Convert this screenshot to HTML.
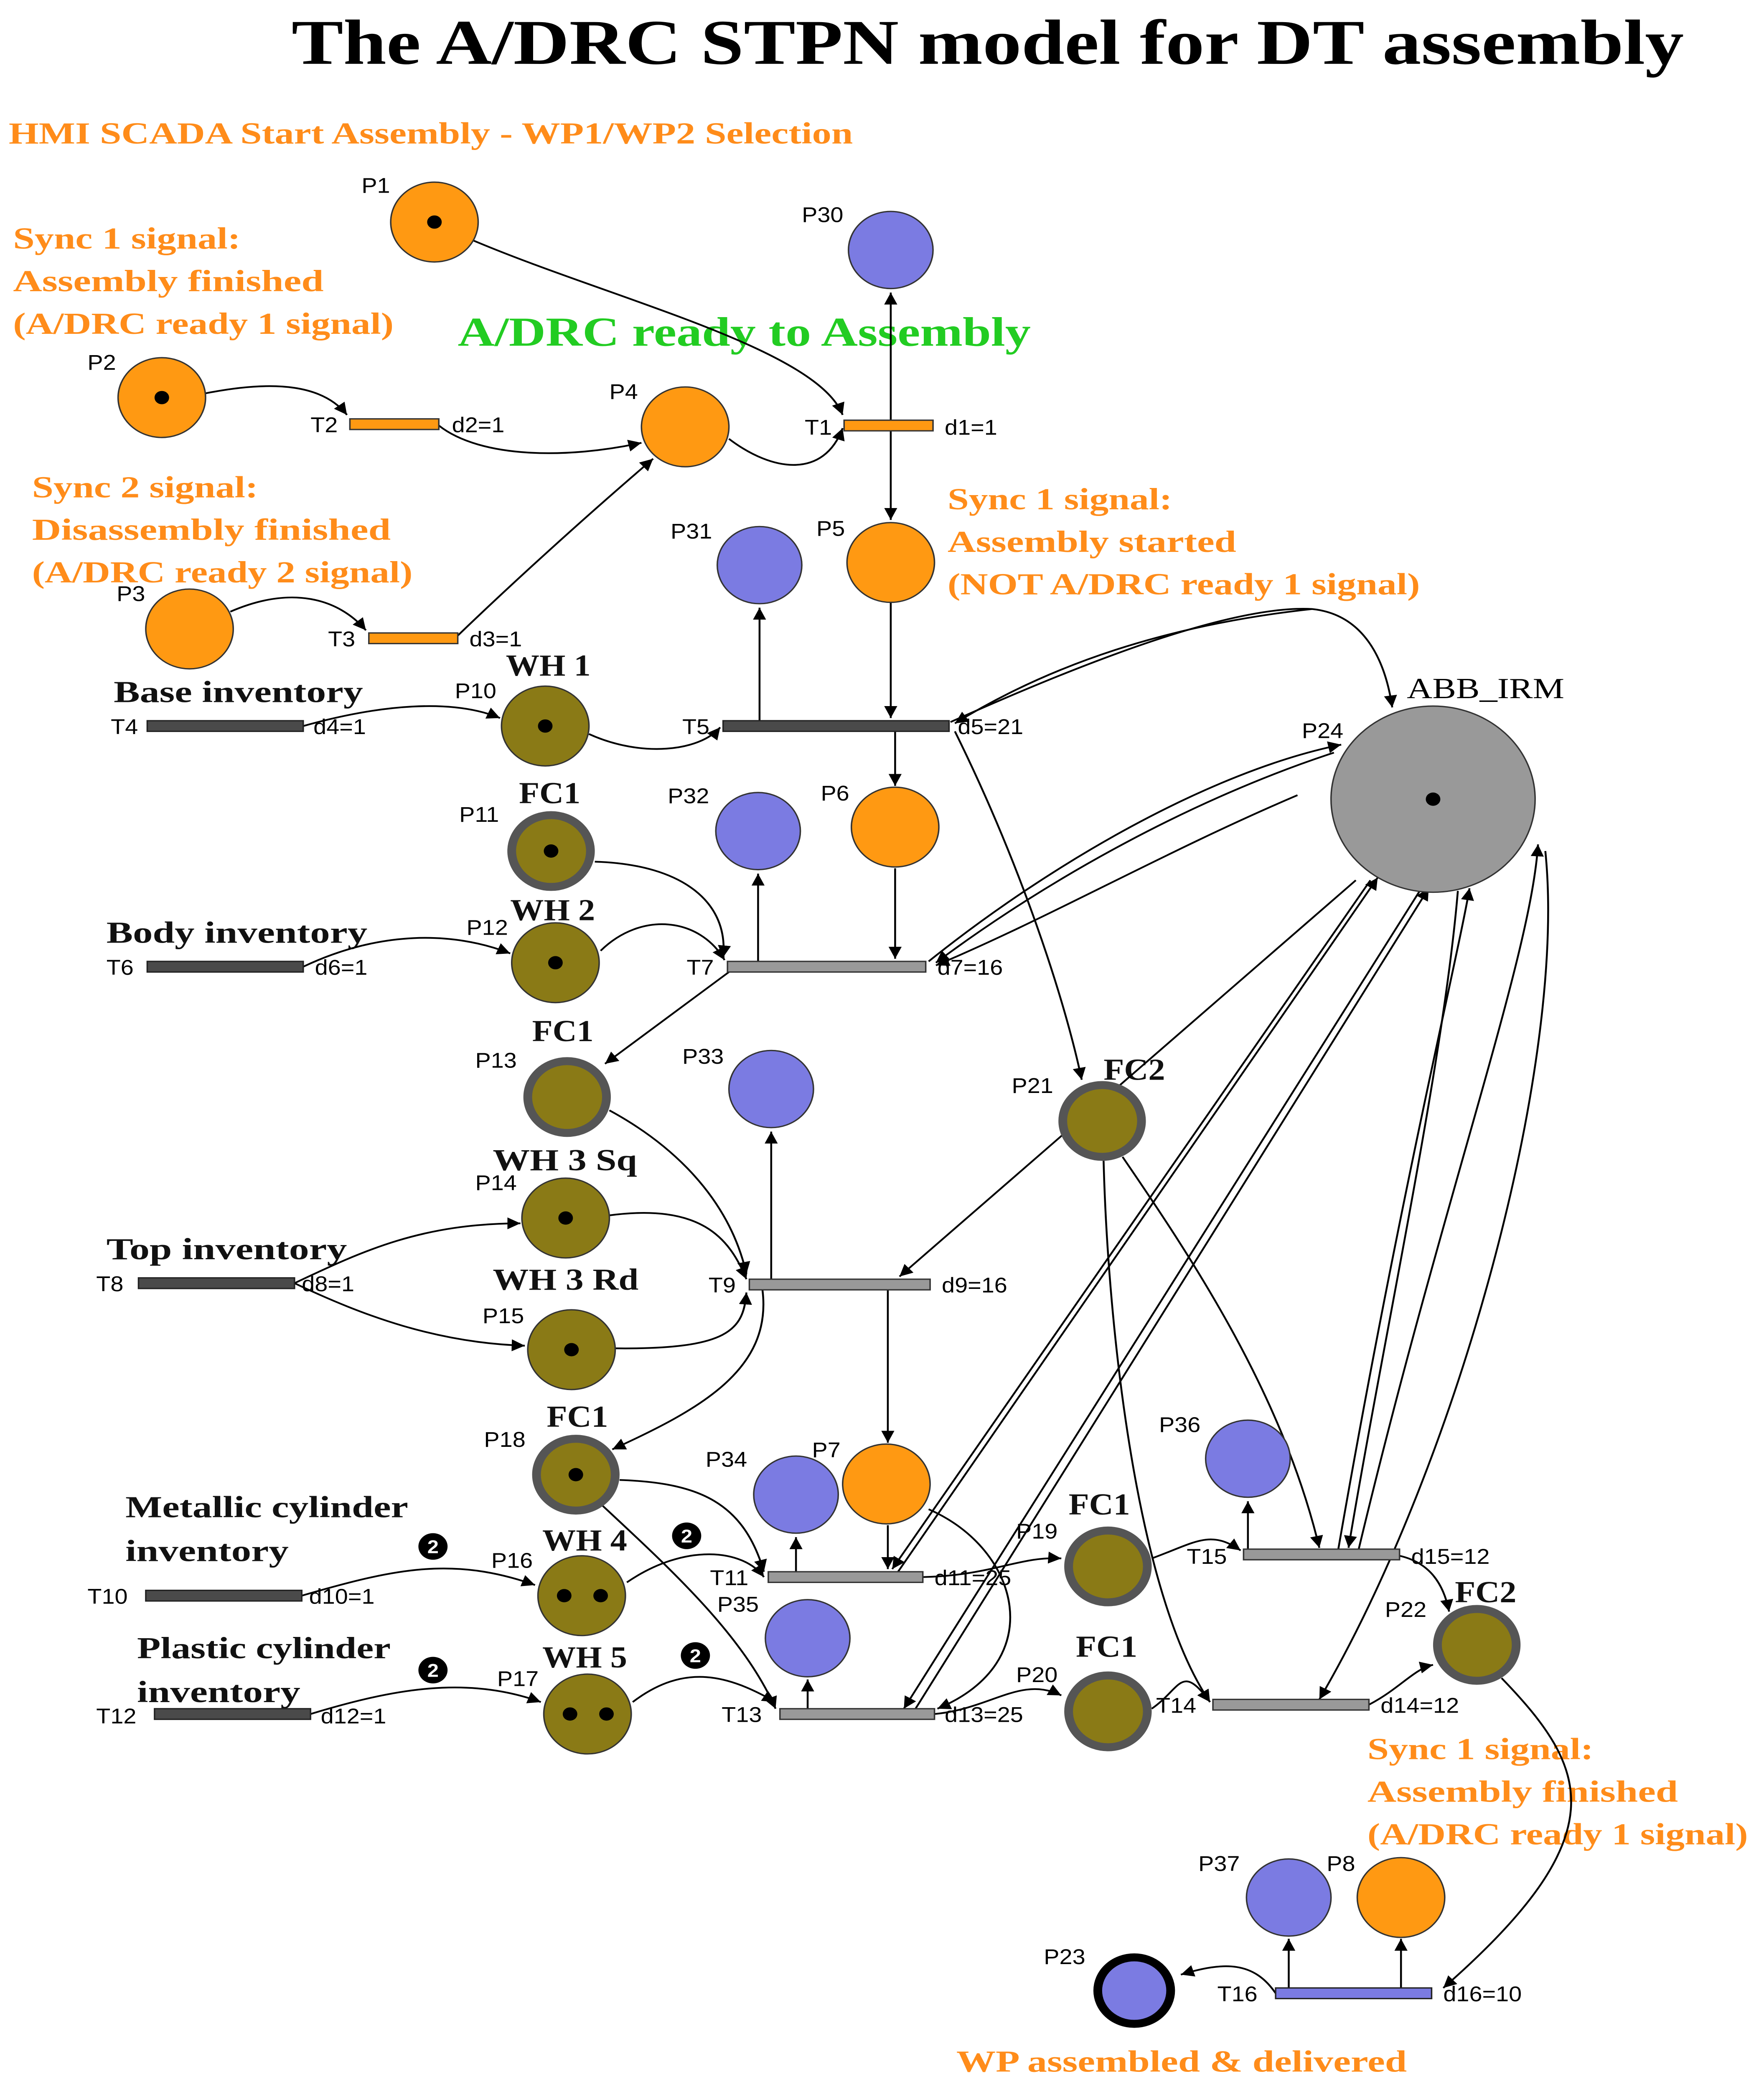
<!DOCTYPE html>
<html><head><meta charset="utf-8"><style>
html,body{margin:0;padding:0;background:#fff;width:100%;height:100%;overflow:hidden;}
svg{display:block;width:100vw;height:100vh;}
.lb{font-family:"Liberation Sans",sans-serif;font-size:16px;fill:#000;}
.or{font-family:"Liberation Serif",serif;font-weight:bold;font-size:23px;fill:#ff8c1a;}
.bk{font-family:"Liberation Serif",serif;font-weight:bold;font-size:23px;fill:#111;}
.pl{stroke:#333;stroke-width:1;}
.o{fill:#ff9912;}
.b{fill:#7b7be2;}
.v{fill:#8a7a16;}
.r{fill:#8a7a16;stroke:#555;stroke-width:6;}
.a{fill:none;stroke:#000;stroke-width:1.3;marker-end:url(#ar);}
.td{fill:#4a4a4a;stroke:#222;stroke-width:1;}
.tg{fill:#999;stroke:#333;stroke-width:1;}
.to{fill:#ff9912;stroke:#333;stroke-width:1;}
</style></head><body>
<svg viewBox="0 0 1210 1571" preserveAspectRatio="none" xmlns="http://www.w3.org/2000/svg">
<defs><marker id="ar" viewBox="0 0 10 10" refX="10" refY="5" markerWidth="9" markerHeight="9" markerUnits="userSpaceOnUse" orient="auto"><path d="M0,0 L10,5 L0,10 z" fill="#000"/></marker></defs>

<text x="200" y="48" textLength="955" lengthAdjust="spacingAndGlyphs" style="font-family:'Liberation Serif',serif;font-weight:bold;font-size:48px">The A/DRC STPN model for DT assembly</text>
<text class="or" x="6" y="108" textLength="579" lengthAdjust="spacingAndGlyphs">HMI SCADA Start Assembly - WP1/WP2 Selection</text>
<text class="or" x="9" y="187" textLength="156" lengthAdjust="spacingAndGlyphs">Sync 1 signal:</text><text class="or" x="9" y="219" textLength="213" lengthAdjust="spacingAndGlyphs">Assembly finished</text><text class="or" x="9" y="251" textLength="261" lengthAdjust="spacingAndGlyphs">(A/DRC ready 1 signal)</text>
<text x="314" y="260" textLength="393" lengthAdjust="spacingAndGlyphs" style="font-family:'Liberation Serif',serif;font-weight:bold;font-size:31px;fill:#22cc22">A/DRC ready to Assembly</text>
<text class="or" x="22" y="374" textLength="155" lengthAdjust="spacingAndGlyphs">Sync 2 signal:</text><text class="or" x="22" y="406" textLength="246" lengthAdjust="spacingAndGlyphs">Disassembly finished</text><text class="or" x="22" y="438" textLength="261" lengthAdjust="spacingAndGlyphs">(A/DRC ready 2 signal)</text>
<text class="or" x="650" y="383" textLength="154" lengthAdjust="spacingAndGlyphs">Sync 1 signal:</text><text class="or" x="650" y="415" textLength="198" lengthAdjust="spacingAndGlyphs">Assembly started</text><text class="or" x="650" y="447" textLength="324" lengthAdjust="spacingAndGlyphs">(NOT A/DRC ready 1 signal)</text>
<text class="or" x="938" y="1323" textLength="155" lengthAdjust="spacingAndGlyphs">Sync 1 signal:</text><text class="or" x="938" y="1355" textLength="213" lengthAdjust="spacingAndGlyphs">Assembly finished</text><text class="or" x="938" y="1387" textLength="261" lengthAdjust="spacingAndGlyphs">(A/DRC ready 1 signal)</text>
<text class="or" x="656" y="1558" textLength="309" lengthAdjust="spacingAndGlyphs">WP assembled &amp; delivered</text>
<text class="bk" x="78" y="528" textLength="171" lengthAdjust="spacingAndGlyphs">Base inventory</text>
<text class="bk" x="73" y="709" textLength="179" lengthAdjust="spacingAndGlyphs">Body inventory</text>
<text class="bk" x="73" y="947" textLength="165" lengthAdjust="spacingAndGlyphs">Top inventory</text>
<text class="bk" x="86" y="1141" textLength="194" lengthAdjust="spacingAndGlyphs">Metallic cylinder</text><text class="bk" x="86" y="1174" textLength="112" lengthAdjust="spacingAndGlyphs">inventory</text>
<text class="bk" x="94" y="1247" textLength="174" lengthAdjust="spacingAndGlyphs">Plastic cylinder</text><text class="bk" x="94" y="1280" textLength="112" lengthAdjust="spacingAndGlyphs">inventory</text>
<text class="bk" x="347" y="508">WH 1</text><text class="bk" x="356" y="604">FC1</text><text class="bk" x="350" y="692">WH 2</text>
<text class="bk" x="365" y="783">FC1</text><text class="bk" x="757" y="812">FC2</text><text class="bk" x="338" y="880" textLength="99" lengthAdjust="spacingAndGlyphs">WH 3 Sq</text>
<text class="bk" x="338" y="970" textLength="100" lengthAdjust="spacingAndGlyphs">WH 3 Rd</text><text class="bk" x="375" y="1073">FC1</text><text class="bk" x="733" y="1139">FC1</text>
<text class="bk" x="372" y="1166">WH 4</text><text class="bk" x="998" y="1205">FC2</text><text class="bk" x="372" y="1254">WH 5</text>
<text class="bk" x="738" y="1246">FC1</text>
<text x="965" y="525" textLength="108" lengthAdjust="spacingAndGlyphs" style="font-family:'Liberation Serif',serif;font-size:22px">ABB_IRM</text>

<g>
<path class="a" d="M325,181 C420,225 560,262 578,312"/>
<path class="a" d="M611,316 L611,220"/>
<path class="a" d="M611,324 L611,391"/>
<path class="a" d="M140,296 C190,285 222,290 238,312"/>
<path class="a" d="M301,320 C330,345 390,345 440,333"/>
<path class="a" d="M500,330 C530,355 565,360 578,322"/>
<path class="a" d="M158,460 C200,440 232,450 251,474"/>
<path class="a" d="M314,478 C350,440 400,390 448,345"/>
<path class="a" d="M521,542 L521,457"/>
<path class="a" d="M611,453 L611,540"/>
<path class="a" d="M652,543 C760,490 850,455 900,458 C935,462 950,495 955,532"/>
<path class="a" d="M900,458 C800,470 720,500 655,544"/>
<path class="a" d="M208,546 C260,530 310,525 343,540"/>
<path class="a" d="M404,552 C440,570 480,565 494,547"/>
<path class="a" d="M614,550 L614,591"/>
<path class="a" d="M655,550 C700,650 730,750 742,812"/>
<path class="a" d="M637,723 C720,650 830,580 920,560"/>
<path class="a" d="M915,566 C820,600 720,660 642,724"/>
<path class="a" d="M890,598 C800,640 720,690 642,726"/>
<path class="a" d="M520,723 L520,657"/>
<path class="a" d="M614,653 L614,721"/>
<path class="a" d="M408,648 C470,650 500,680 496,720"/>
<path class="a" d="M208,727 C260,700 310,700 350,717"/>
<path class="a" d="M412,715 C440,685 480,690 497,722"/>
<path class="a" d="M500,731 L415,800"/>
<path class="a" d="M418,835 C460,860 500,900 512,958"/>
<path class="a" d="M529,962 L529,851"/>
<path class="a" d="M930,662 L617,960"/>
<path class="a" d="M202,965 C250,940 290,920 357,920"/>
<path class="a" d="M202,965 C250,990 300,1010 360,1012"/>
<path class="a" d="M418,914 C480,905 500,930 512,962"/>
<path class="a" d="M422,1014 C500,1015 510,1000 512,972"/>
<path class="a" d="M523,970 C530,1030 480,1060 420,1090"/>
<path class="a" d="M609,970 L609,1085"/>
<path class="a" d="M425,1113 C480,1115 510,1130 524,1182"/>
<path class="a" d="M413,1132 C460,1180 510,1230 532,1285"/>
<path class="a" d="M207,1200 C270,1180 310,1170 367,1192"/>
<path class="a" d="M430,1190 C470,1160 510,1165 524,1186"/>
<path class="a" d="M546,1182 L546,1156"/>
<path class="a" d="M609,1147 L609,1180"/>
<path class="a" d="M940,662 L612,1180"/>
<path class="a" d="M616,1182 L945,660"/>
<path class="a" d="M975,668 L620,1285"/>
<path class="a" d="M628,1285 L980,668"/>
<path class="a" d="M633,1186 C680,1185 700,1170 728,1172"/>
<path class="a" d="M637,1135 C700,1165 720,1250 643,1285"/>
<path class="a" d="M213,1289 C270,1270 320,1260 371,1280"/>
<path class="a" d="M434,1280 C470,1250 500,1260 532,1280"/>
<path class="a" d="M554,1285 L554,1263"/>
<path class="a" d="M641,1289 C680,1285 700,1260 728,1275"/>
<path class="a" d="M790,1172 C820,1160 830,1150 851,1166"/>
<path class="a" d="M856,1165 L856,1129"/>
<path class="a" d="M770,870 C820,950 880,1050 905,1164"/>
<path class="a" d="M918,1165 C960,900 1000,720 1008,668"/>
<path class="a" d="M1000,670 C990,800 950,1000 925,1164"/>
<path class="a" d="M932,1165 C990,900 1050,720 1055,635"/>
<path class="a" d="M1060,640 C1075,800 1000,1100 905,1278"/>
<path class="a" d="M757,873 C760,1000 780,1200 830,1280"/>
<path class="a" d="M960,1170 C980,1175 990,1190 994,1212"/>
<path class="a" d="M790,1285 C810,1270 810,1250 830,1280"/>
<path class="a" d="M939,1282 C960,1270 970,1255 983,1252"/>
<path class="a" d="M1030,1262 C1090,1330 1110,1380 990,1495"/>
<path class="a" d="M884,1495 L884,1458"/>
<path class="a" d="M961,1495 L961,1458"/>
<path class="a" d="M875,1499 C860,1475 840,1475 810,1485"/>
</g>

<rect class="to" x="240" y="315" width="61" height="8"/>
<rect class="to" x="579" y="316" width="61" height="8"/>
<rect class="to" x="253" y="476" width="61" height="8"/>
<rect class="td" x="101" y="542" width="107" height="8"/>
<rect class="td" x="496" y="542" width="155" height="8"/>
<rect class="td" x="101" y="723" width="107" height="8"/>
<rect class="tg" x="499" y="723" width="136" height="8"/>
<rect class="td" x="95" y="961" width="107" height="8"/>
<rect class="tg" x="514" y="962" width="124" height="8"/>
<rect class="tg" x="527" y="1182" width="106" height="8"/>
<rect class="tg" x="853" y="1165" width="107" height="8"/>
<rect class="td" x="100" y="1196" width="107" height="8"/>
<rect class="tg" x="535" y="1285" width="106" height="8"/>
<rect class="tg" x="832" y="1278" width="107" height="8"/>
<rect class="td" x="106" y="1285" width="107" height="8"/>
<rect x="875" y="1495" width="107" height="8" fill="#7b7be2" stroke="#222"/>

<g class="pl">
<circle class="o" cx="298" cy="167" r="30"/><circle class="b" cx="611" cy="188" r="29"/>
<circle class="o" cx="111" cy="299" r="30"/><circle class="o" cx="470" cy="321" r="30"/>
<circle class="o" cx="130" cy="473" r="30"/><circle class="b" cx="521" cy="425" r="29"/>
<circle class="o" cx="611" cy="423" r="30"/><circle class="v" cx="374" cy="546" r="30"/>
<circle cx="983" cy="601" r="70" fill="#999"/>
<circle class="r" cx="378" cy="640" r="27"/><circle class="b" cx="520" cy="625" r="29"/>
<circle class="o" cx="614" cy="622" r="30"/><circle class="v" cx="381" cy="724" r="30"/>
<circle class="r" cx="389" cy="825" r="27"/><circle class="b" cx="529" cy="819" r="29"/>
<circle class="r" cx="756" cy="843" r="27"/><circle class="v" cx="388" cy="916" r="30"/>
<circle class="v" cx="392" cy="1015" r="30"/><circle class="r" cx="395" cy="1109" r="27"/>
<circle class="b" cx="546" cy="1124" r="29"/><circle class="o" cx="608" cy="1116" r="30"/>
<circle class="b" cx="856" cy="1097" r="29"/><circle class="r" cx="760" cy="1178" r="27"/>
<circle class="v" cx="399" cy="1200" r="30"/><circle class="b" cx="554" cy="1232" r="29"/>
<circle class="r" cx="1013" cy="1237" r="27"/><circle class="v" cx="403" cy="1289" r="30"/>
<circle class="r" cx="760" cy="1287" r="27"/><circle class="b" cx="884" cy="1427" r="29"/>
<circle class="o" cx="961" cy="1427" r="30"/>
<circle cx="778" cy="1497" r="25" fill="#7b7be2" stroke="#000" stroke-width="6"/>
</g>
<g fill="#000">
<circle cx="298" cy="167" r="5"/><circle cx="111" cy="299" r="5"/><circle cx="374" cy="546" r="5"/>
<circle cx="983" cy="601" r="5"/><circle cx="378" cy="640" r="5"/><circle cx="381" cy="724" r="5"/>
<circle cx="388" cy="916" r="5"/><circle cx="392" cy="1015" r="5"/><circle cx="395" cy="1109" r="5"/>
<circle cx="387" cy="1200" r="5"/><circle cx="412" cy="1200" r="5"/>
<circle cx="391" cy="1289" r="5"/><circle cx="416" cy="1289" r="5"/>
<circle cx="297" cy="1163" r="10"/><circle cx="471" cy="1155" r="10"/>
<circle cx="297" cy="1256" r="10"/><circle cx="477" cy="1245" r="10"/>
</g>
<g style="font-family:'Liberation Sans',sans-serif;font-weight:bold;font-size:14px;fill:#fff" text-anchor="middle">
<text x="297" y="1168">2</text><text x="471" y="1160">2</text><text x="297" y="1261">2</text><text x="477" y="1250">2</text>
</g>

<g class="lb">
<text x="248" y="145">P1</text><text x="550" y="167">P30</text><text x="60" y="278">P2</text>
<text x="418" y="300">P4</text><text x="80" y="452">P3</text><text x="460" y="405">P31</text>
<text x="560" y="403">P5</text><text x="312" y="525">P10</text><text x="893" y="555">P24</text>
<text x="315" y="618">P11</text><text x="458" y="604">P32</text><text x="563" y="602">P6</text>
<text x="320" y="703">P12</text><text x="326" y="803">P13</text><text x="468" y="800">P33</text>
<text x="694" y="822">P21</text><text x="326" y="895">P14</text><text x="331" y="995">P15</text>
<text x="332" y="1088">P18</text><text x="484" y="1103">P34</text><text x="557" y="1096">P7</text>
<text x="795" y="1077">P36</text><text x="697" y="1157">P19</text><text x="337" y="1179">P16</text>
<text x="492" y="1212">P35</text><text x="950" y="1216">P22</text><text x="341" y="1268">P17</text>
<text x="697" y="1265">P20</text><text x="822" y="1407">P37</text><text x="910" y="1407">P8</text>
<text x="716" y="1477">P23</text>
<text x="213" y="325">T2</text><text x="310" y="325">d2=1</text>
<text x="552" y="327">T1</text><text x="648" y="327">d1=1</text>
<text x="225" y="486">T3</text><text x="322" y="486">d3=1</text>
<text x="76" y="552">T4</text><text x="215" y="552">d4=1</text>
<text x="468" y="552">T5</text><text x="657" y="552">d5=21</text>
<text x="73" y="733">T6</text><text x="216" y="733">d6=1</text>
<text x="471" y="733">T7</text><text x="643" y="733">d7=16</text>
<text x="66" y="971">T8</text><text x="207" y="971">d8=1</text>
<text x="486" y="972">T9</text><text x="646" y="972">d9=16</text>
<text x="487" y="1192">T11</text><text x="641" y="1192">d11=25</text>
<text x="814" y="1176">T15</text><text x="968" y="1176">d15=12</text>
<text x="60" y="1206">T10</text><text x="212" y="1206">d10=1</text>
<text x="495" y="1295">T13</text><text x="648" y="1295">d13=25</text>
<text x="793" y="1288">T14</text><text x="947" y="1288">d14=12</text>
<text x="66" y="1296">T12</text><text x="220" y="1296">d12=1</text>
<text x="835" y="1505">T16</text><text x="990" y="1505">d16=10</text>
</g>
</svg>
</body></html>
